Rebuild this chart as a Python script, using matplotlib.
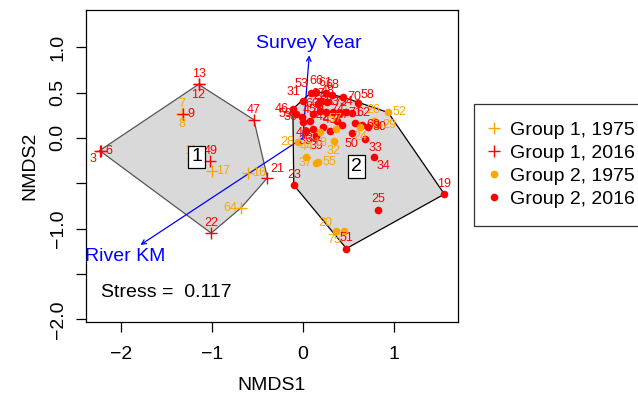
import numpy as np
import matplotlib
matplotlib.use("Agg")
import matplotlib.pyplot as plt
from matplotlib.lines import Line2D

plt.rcParams['font.family'] = ['Liberation Sans', 'DejaVu Sans']

# Group 1 sites (plus markers)
g1_ids = [12, 13, 7, 8, 9, 47, 3, 6, 11, 49, 17, 16, 21, 64, 22]
g1_year = [2016, 2016, 1975, 1975, 2016, 2016, 2016, 2016, 1975, 2016, 1975, 1975, 2016, 1975, 2016]
g1_x = [-1.15, -1.15, -1.33, -1.33, -1.32, -0.54, -2.24, -2.22, -1.12, -1.02, -1.00, -0.61, -0.39, -0.68, -1.01]
g1_y = [0.59, 0.59, 0.26, 0.26, 0.26, 0.20, -0.14, -0.14, -0.14, -0.26, -0.37, -0.39, -0.44, -0.77, -1.05]

# Group 2 sites (filled dots)
g2_ids = [53, 66, 61, 68, 70, 58, 46, 31, 41, 36, 59, 40, 60, 56, 65, 63, 72, 54, 62, 71,
          69, 38, 35, 39, 42, 43, 27, 50, 30, 33, 34, 25, 19, 23, 51, 45, 74, 67, 48,
          52, 26, 29, 28, 57, 32, 44, 37, 55, 20, 75, 24, 18]
g2_year = [2016] * 39 + [1975] * 13
g2_x = [0.09, 0.15, 0.25, 0.32, 0.44, 0.61, -0.11, 0.00, 0.19, -0.01, -0.07, 0.00, 0.11, 0.19, 0.26,
        0.33, 0.41, 0.48, 0.54, 0.58, 0.65, 0.11, 0.03, 0.15, 0.22, 0.30, 0.43, 0.54, 0.72, 0.69,
        0.78, 0.83, 1.56, -0.10, 0.48, 0.08, 0.38, 0.17, 0.27,
        0.94, 0.78, 0.83, -0.05, 0.36, 0.34, 0.04, 0.15, 0.17, 0.36, 0.45, 0.63, 0.19]
g2_y = [0.50, 0.51, 0.49, 0.47, 0.45, 0.38, 0.32, 0.41, 0.41, 0.23, 0.26, 0.17, 0.26, 0.30, 0.28,
        0.28, 0.27, 0.28, 0.27, 0.16, 0.14, 0.10, 0.08, 0.02, 0.12, 0.08, 0.14, 0.05, 0.12, -0.01,
        -0.21, -0.79, -0.62, -0.52, -1.22, 0.19, 0.19, 0.37, 0.40,
        0.28, 0.19, 0.14, -0.05, 0.10, -0.03, -0.21, -0.28, -0.27, -1.03, -1.03, 0.12, 0.06]

# group centroid labels, fitted vectors, stress
centroids = {"1": (-1.17, -0.21), "2": (0.59, -0.32)}
vectors = {"Survey Year": (0.07, 0.91), "River KM": (-1.79, -1.18)}
vector_text = {"Survey Year": (0.07, 1.04), "River KM": (-1.96, -1.31)}
stress = 0.117

# where each site label goes relative to its point
label_pos = {12: 'b', 13: 'a', 7: 'a', 8: 'b', 9: 'r', 47: 'a', 3: 'bl', 6: 'r', 11: 'l',
             49: 'a', 17: 'r', 16: 'r', 21: 'ar', 64: 'l', 22: 'a',
             53: 'al', 70: 'r', 58: 'ar', 46: 'l', 31: 'al', 41: 'b', 36: 'l', 59: 'l',
             40: 'b', 52: 'r', 75: 'bl', 20: 'al', 34: 'br', 33: 'br', 30: 'r', 29: 'r',
             37: 'l', 55: 'r', 32: 'b', 28: 'l', 39: 'b', 35: 'b', 38: 'b', 50: 'b',
             62: 'r', 69: 'r', 71: 'a', 24: 'b', 18: 'b'}
offsets = {'a': ((0, 3), 'center', 'bottom'), 'b': ((0, -3), 'center', 'top'),
           'r': ((3, 0), 'left', 'center'), 'l': ((-3, 0), 'right', 'center'),
           'al': ((-2, 2), 'right', 'bottom'), 'ar': ((2, 2), 'left', 'bottom'),
           'bl': ((-2, -2), 'right', 'top'), 'br': ((2, -2), 'left', 'top')}

col = {1975: 'orange', 2016: 'red'}
FS = 14


def hull(px, py):
    # monotone chain convex hull
    pts = sorted(set(zip(px, py)))

    def cross(o, a, b):
        return (a[0] - o[0]) * (b[1] - o[1]) - (a[1] - o[1]) * (b[0] - o[0])
    lower, upper = [], []
    for p in pts:
        while len(lower) >= 2 and cross(lower[-2], lower[-1], p) <= 0:
            lower.pop()
        lower.append(p)
    for p in reversed(pts):
        while len(upper) >= 2 and cross(upper[-2], upper[-1], p) <= 0:
            upper.pop()
        upper.append(p)
    return np.array(lower[:-1] + upper[:-1])


fig = plt.figure(figsize=(6.38, 3.97), dpi=100)
ax = fig.add_axes([86 / 638, 1 - 322 / 397, (458 - 86) / 638, (322 - 10) / 397])

# convex hulls
h1 = hull(g1_x, g1_y)
h2 = hull(g2_x, g2_y)
ax.fill(h1[:, 0], h1[:, 1], facecolor='#d9d9d9', edgecolor='#555555', lw=0.9, zorder=1)
ax.fill(h2[:, 0], h2[:, 1], facecolor='#d9d9d9', edgecolor='black', lw=0.9, zorder=1)

# fitted vectors
for name, (vx, vy) in vectors.items():
    ax.annotate('', xy=(vx, vy), xytext=(0, 0),
                arrowprops=dict(arrowstyle='->', color='blue', lw=0.9,
                                mutation_scale=8, shrinkA=0, shrinkB=0), zorder=2)
    tx, ty = vector_text[name]
    ax.text(tx, ty, name, color='blue', fontsize=FS, ha='center', va='center', zorder=5)

# points
for x, y, yr in zip(g1_x, g1_y, g1_year):
    ax.plot(x, y, marker='+', ms=9, mew=1, color=col[yr], ls='none', zorder=3)
for x, y, yr in zip(g2_x, g2_y, g2_year):
    ax.plot(x, y, marker='o', ms=5.5, color=col[yr], mec='none', ls='none', zorder=3)

# site labels
for ids, xs, ys, yrs in [(g1_ids, g1_x, g1_y, g1_year), (g2_ids, g2_x, g2_y, g2_year)]:
    for i, x, y, yr in zip(ids, xs, ys, yrs):
        off, ha, va = offsets[label_pos.get(i, 'a')]
        ax.annotate(str(i), (x, y), xytext=off, textcoords='offset points',
                    color=col[yr], fontsize=9, ha=ha, va=va, zorder=4)

# group labels
for g, (cx, cy) in centroids.items():
    ax.text(cx, cy, g, fontsize=FS, ha='center', va='center', zorder=5,
            bbox=dict(boxstyle='square,pad=0.15', facecolor='white', edgecolor='black', lw=0.9))

ax.text(-2.23, -1.71, "Stress =  %.3f" % stress, fontsize=FS, ha='left', va='center')

ax.set_xlim(-2.39, 1.71)
ax.set_ylim(-2.03, 1.41)
ax.set_xticks([-2, -1, 0, 1])
ax.set_xticklabels(['\u22122', '\u22121', '0', '1'])
ax.set_yticks([-2.0, -1.5, -1.0, -0.5, 0.0, 0.5, 1.0])
ax.set_yticklabels(['\u22122.0', '', '\u22121.0', '', '0.0', '0.5', '1.0'], rotation=90, va='center')
ax.tick_params(direction='out', length=7, width=0.9, labelsize=FS)
ax.tick_params(axis='x', pad=10)
ax.tick_params(axis='y', pad=7)
for s in ax.spines.values():
    s.set_linewidth(0.9)
ax.set_xlabel("NMDS1", fontsize=FS, labelpad=10)
ax.set_ylabel("NMDS2", fontsize=FS, labelpad=8)

# legend
handles = [Line2D([], [], marker='+', ms=9, mew=1, color='orange', ls='none'),
           Line2D([], [], marker='+', ms=9, mew=1, color='red', ls='none'),
           Line2D([], [], marker='o', ms=5.5, color='orange', mec='none', ls='none'),
           Line2D([], [], marker='o', ms=5.5, color='red', mec='none', ls='none')]
labels = ["Group 1, 1975", "Group 1, 2016", "Group 2, 1975", "Group 2, 2016"]
leg = fig.legend(handles, labels, loc='upper left', bbox_to_anchor=(474 / 638, 1 - 104 / 397),
                 fontsize=FS, frameon=True, fancybox=False, edgecolor='black',
                 handlelength=0.3, handletextpad=0.65, labelspacing=0.28, borderpad=0.9,
                 borderaxespad=0)
leg.get_frame().set_linewidth(0.9)

fig.savefig("out.png", dpi=100)
